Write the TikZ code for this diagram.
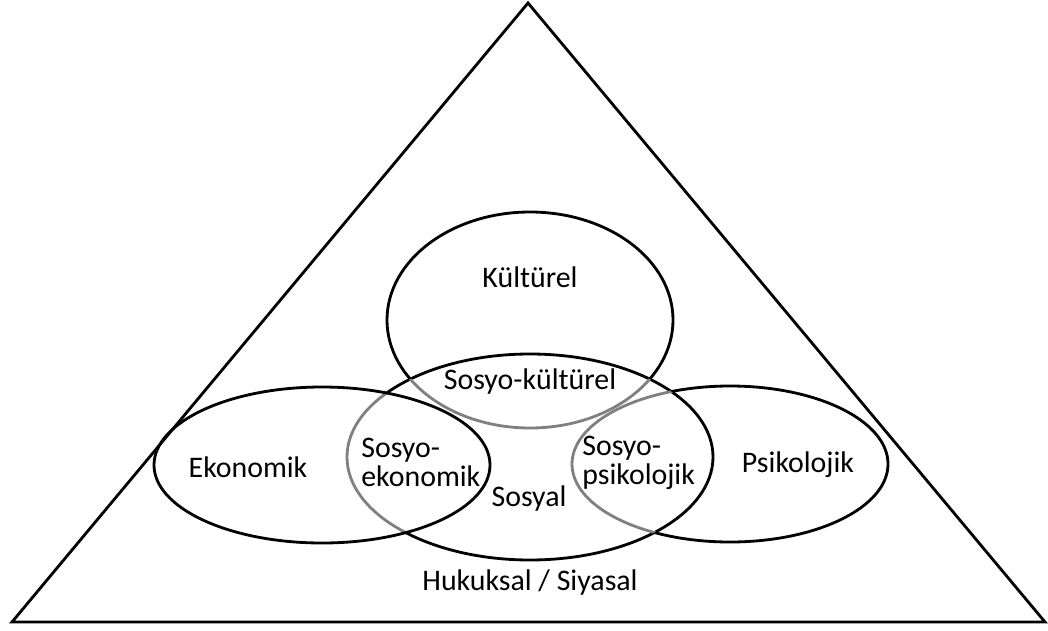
\documentclass[tikz,border=0pt]{standalone}
\usepackage{fontspec}
\setmainfont{Carlito}

\tikzset{
  ring/.style={line width=1.6pt},
  inring/.style={line width=1.6pt, black!50},
  lbl/.style={font=\fontsize{17}{20}\selectfont, inner sep=0pt},
  ekoE/.style={x radius=3.36cm, y radius=1.56cm},
  sosE/.style={x radius=3.66cm, y radius=2.06cm},
  kulE/.style={x radius=2.86cm, y radius=2.16cm},
  psiE/.style={x radius=3.16cm, y radius=1.56cm},
}

\begin{document}
\begin{tikzpicture}
            \useasboundingbox (0,0) rectangle (20.96,12.6);

            \coordinate (top) at (10.56,12.54);
            \coordinate (bl) at (0.24,0.16);
            \coordinate (br) at (20.90,0.16);
            \coordinate (kul) at (10.6,6.2);
            \coordinate (sos) at (10.6,3.46);
            \coordinate (eko) at (6.44,3.3);
            \coordinate (psi) at (14.6,3.32);

            \draw[ring] (top) -- (bl) -- (br) -- cycle;

            % sosyal: grey where it runs through ekonomik
            \begin{scope}[even odd rule]
                \clip (-1,-1) rectangle (22,14) (eko) ellipse [ekoE];
                \draw[ring] (sos) ellipse [sosE];
            \end{scope}
            \begin{scope}
                \clip (eko) ellipse [ekoE];
                \draw[inring] (sos) ellipse [sosE];
            \end{scope}

            \draw[ring] (eko) ellipse [ekoE];

            % kulturel and psikolojik: grey inside sosyal
            \begin{scope}[even odd rule]
                \clip (-1,-1) rectangle (22,14) (sos) ellipse [sosE];
                \draw[ring] (kul) ellipse [kulE];
                \draw[ring] (psi) ellipse [psiE];
            \end{scope}
            \begin{scope}
                \clip (sos) ellipse [sosE];
                \draw[inring] (kul) ellipse [kulE];
                \draw[inring] (psi) ellipse [psiE];
            \end{scope}

            \node[lbl] (tkul) at (10.6,7.06) {Kültürel};
            \node[lbl] (tsoskul) at (10.6,4.96) {Sosyo-kültürel};
            \node[lbl] (teko) at (4.96,3.26) {Ekonomik};
            \node[lbl, anchor=west, align=left] (tsoseko) at (7.22,3.36) {Sosyo-\\[-3.5pt]ekonomik};
            \node[lbl] (tsos) at (10.58,2.62) {Sosyal};
            \node[lbl, anchor=west, align=left] (tsospsi) at (11.64,3.34) {Sosyo-\\[-3.5pt]psikolojik};
            \node[lbl] (tpsi) at (15.96,3.3) {Psikolojik};
            \node[lbl] (thuk) at (10.6,0.94) {Hukuksal / Siyasal};
        \end{tikzpicture}
\end{document}
